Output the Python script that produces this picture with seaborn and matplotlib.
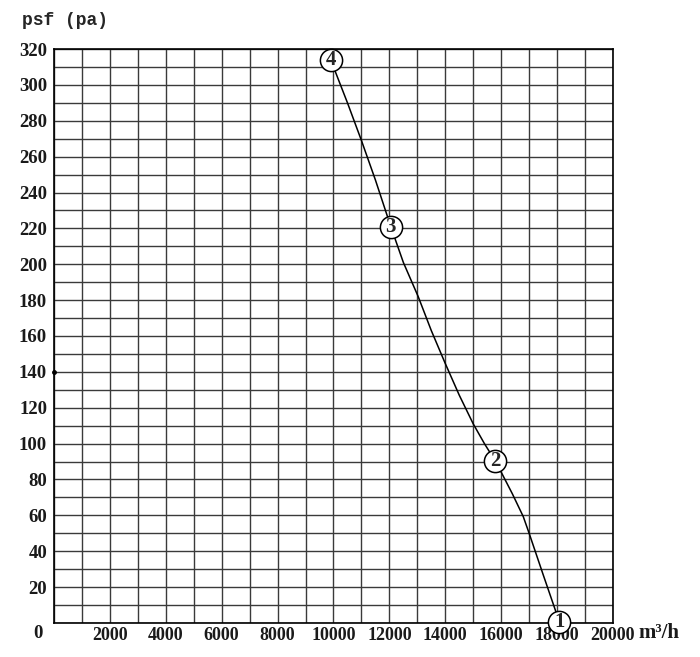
import numpy as np
import pandas as pd
import matplotlib
matplotlib.use("Agg")
import matplotlib.pyplot as plt
import seaborn as sns

# curve (airflow m3/h vs static pressure pa)
FLOW     = [9900, 10500, 11000, 11500, 12050, 12500, 13030, 13500, 13990, 14500,
            15000, 15400, 15780, 16020, 16400, 16790, 17000, 17500, 18080]
PRESSURE = [314, 290, 269, 247, 221, 201, 182, 163, 145, 127,
            111, 100, 90.5, 83.5, 72, 59.3, 50, 27, 0.7]
# numbered operating points
PT_FLOW  = [18080, 15780, 12050, 9900]
PT_PRESS = [0.7, 90.5, 221, 314]
PT_LABEL = ["1", "2", "3", "4"]

X_TICKS = list(range(2000, 20001, 2000))
Y_TICKS = list(range(20, 321, 20))

sns.set_theme(style="white")
plt.rcParams["font.family"] = ["Liberation Serif", "DejaVu Serif"]

fig = plt.figure(figsize=(7.0, 6.57), dpi=100)
ax = fig.add_axes([0.0771, 0.0518, 0.7986, 0.8736])

df = pd.DataFrame({"flow": FLOW, "psf": PRESSURE})
sns.lineplot(data=df, x="flow", y="psf", ax=ax, color="black", linewidth=1.1,
             sort=False, zorder=3)

ax.set_xlim(0, 20000)
ax.set_ylim(0, 320)
ax.set_xticks(X_TICKS)
ax.set_xticks(range(0, 20001, 1000), minor=True)
ax.set_yticks(Y_TICKS)
ax.set_yticks(range(0, 321, 10), minor=True)
ax.set_xticklabels([str(t) for t in X_TICKS], fontsize=13, fontweight="semibold",
                   color="#1a1a1a")
ax.set_yticklabels([str(t) for t in Y_TICKS], fontsize=13.5, fontweight="semibold",
                   color="#1a1a1a")
ax.tick_params(which="both", length=0)
ax.tick_params(axis="x", pad=3)
ax.tick_params(axis="y", pad=5)
ax.grid(True, which="both", color="#3a3a3a", linewidth=1.0)
for s in ax.spines.values():
    s.set_color("black")
    s.set_linewidth(1.2)
ax.set_xlabel("")
ax.set_ylabel("")

# circled point numbers
ax.plot(PT_FLOW, PT_PRESS, "o", markersize=16, markerfacecolor="white",
        markeredgecolor="black", markeredgewidth=1.1, zorder=4, clip_on=False)
for fx, py, lab in zip(PT_FLOW, PT_PRESS, PT_LABEL):
    ax.text(fx, py, lab, ha="center", va="center", fontsize=15,
            fontweight="bold", zorder=5, clip_on=False)

# little dot on the axis at 140
ax.plot([0], [140], "o", color="black", markersize=2.5, clip_on=False, zorder=5)

fig.text(0.054, 0.036, "0", ha="center", va="center", fontsize=13.5,
         fontweight="semibold", color="#1a1a1a")
fig.text(0.912, 0.036, "m³/h", ha="left", va="center", fontsize=15,
         fontweight="semibold", color="#1a1a1a")
fig.text(0.031, 0.969, "psf (pa)", ha="left", va="center", fontsize=13,
         fontweight="bold", family=["Liberation Mono", "DejaVu Sans Mono"])

fig.savefig("out.png", dpi=100)
